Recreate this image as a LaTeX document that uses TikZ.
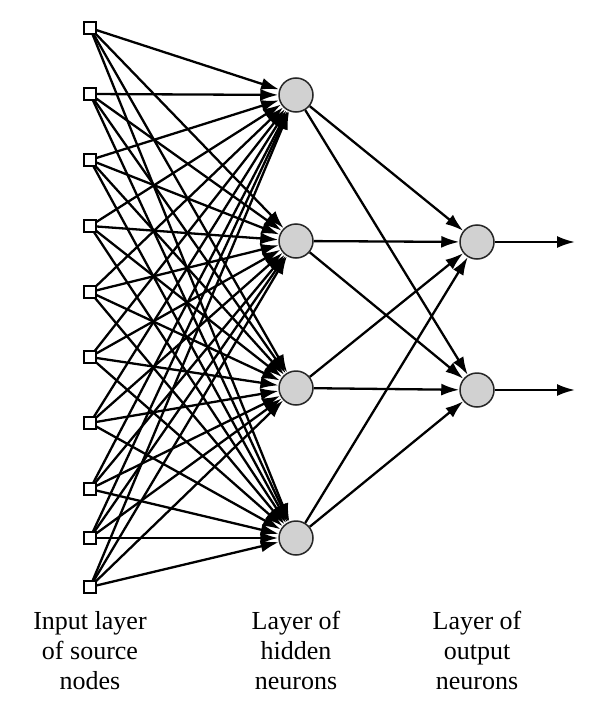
\documentclass[tikz,border=0pt]{standalone}
\usepackage{fontspec}
\setmainfont{Liberation Serif}
\usetikzlibrary{arrows.meta}
\begin{document}
\begin{tikzpicture}[x=1pt,y=-1pt,
  inbox/.style={draw=black,line width=1.6pt,fill=white,minimum size=12pt,inner sep=0pt},
  neuron/.style={circle,draw=black!85,line width=1.5pt,fill=black!18,minimum size=34pt,inner sep=0pt},
  conn/.style={line width=2.3pt,-{Latex[length=18pt,width=12pt]}},
  lbl/.style={align=center,font=\fontsize{26}{30}\selectfont,anchor=north}]
\useasboundingbox (0,0) rectangle (589,717);
% input nodes
\foreach \i/\y in {1/28,2/94,3/160,4/226,5/292,6/357,7/423,8/489,9/538,10/587}
  \coordinate (c\i) at (90,\y);
% hidden nodes
\foreach \j/\y in {1/95,2/241,3/388,4/538}
  \node[neuron] (h\j) at (296,\y) {};
% output nodes
\node[neuron] (o1) at (477,242) {};
\node[neuron] (o2) at (477,390) {};
\coordinate (e1) at (575,242);
\coordinate (e2) at (575,390);
% connections input -> hidden
\foreach \i in {1,...,10}
  \foreach \j in {1,...,4}
    \draw[conn] (c\i) -- (h\j);
\foreach \i in {1,...,10}
  \node[inbox] (x\i) at (c\i) {};
% hidden -> output
\foreach \j in {1,...,4}
  \foreach \k in {1,2}
    \draw[conn] (h\j) -- (o\k);
\draw[conn] (o1) -- (e1);
\draw[conn] (o2) -- (e2);
% labels
\node[lbl] (l1) at (90,608) {Input layer\\of source\\nodes};
\node[lbl] (l2) at (296,608) {Layer of\\hidden\\neurons};
\node[lbl] (l3) at (477,608) {Layer of\\output\\neurons};
\end{tikzpicture}
\end{document}
